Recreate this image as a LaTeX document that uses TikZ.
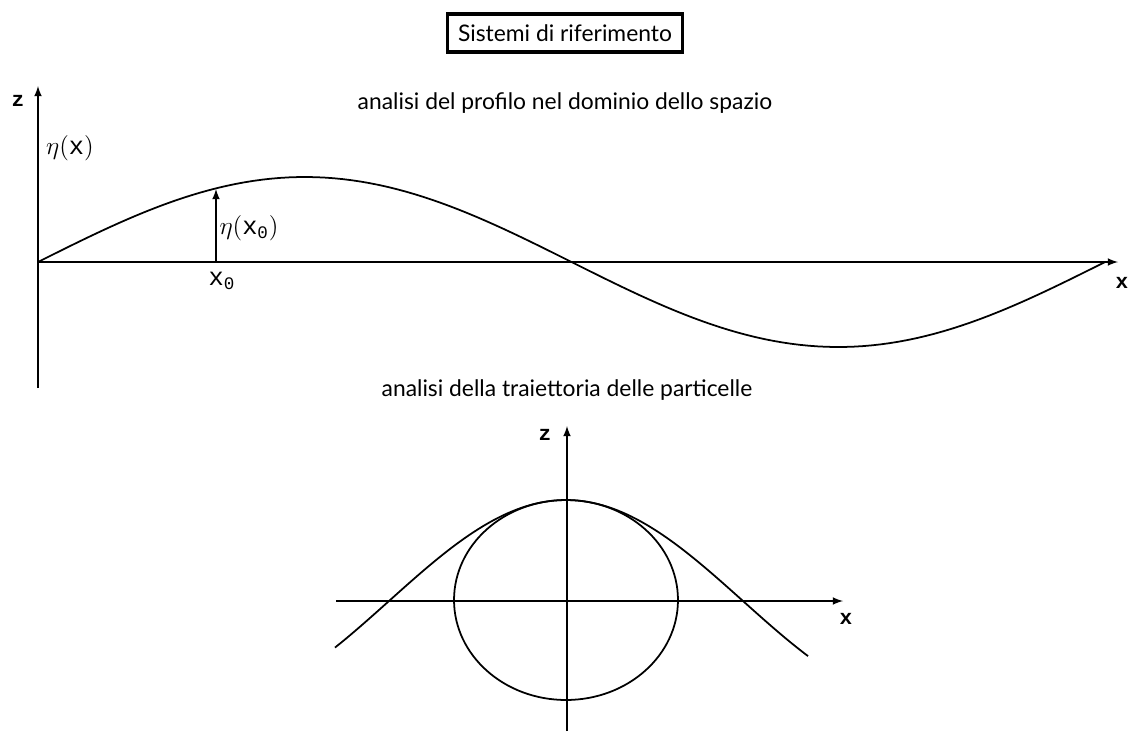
\documentclass[tikz,border=0pt]{standalone}
\usepackage{amsmath}
\usepackage{fontspec}
\setmainfont{Lato}
\setmonofont{Liberation Mono}
\begin{document}
\begin{tikzpicture}[x=0.02cm, y=-0.02cm, >=latex,
    axis/.style={->, line width=1pt},
    curve/.style={line width=1pt},
    lbl/.style={font=\fontsize{13}{15}\selectfont},
    sym/.style={font=\Large},
    ax/.style={font=\large\ttfamily\bfseries}]
    \useasboundingbox (0,0) rectangle (1130,731);

    % Titles
    \node[draw, line width=2.2pt, inner sep=6pt, lbl] (title) at (565,33) {Sistemi di riferimento};
    \node[lbl] (spazio) at (565,103) {analisi del profilo nel dominio dello spazio};
    \node[lbl] (traiett) at (567,390) {analisi della traiettoria delle particelle};

    % Upper axes
    \coordinate (zb1) at (38,388);
    \coordinate (zt1) at (38,86);
    \coordinate (o1) at (38,262);
    \coordinate (xe1) at (1118,262);
    \draw[axis] (zb1) -- (zt1);
    \draw[axis] (o1) -- (xe1);
    \node[ax] (z1) at (18,101) {z};
    \node[ax] (x1) at (1122,283) {x};

    % Profile eta(x)
    \draw[curve] plot[domain=38:1105, samples=120] (\x, {262-85*sin(0.33739*(\x-38))});
    \node[sym] (eta) at (70,148) {$\eta(\texttt{x})$};

    % Elevation at x0
    \coordinate (p0) at (216,262);
    \coordinate (q0) at (216,189);
    \draw[axis] (p0) -- (q0);
    \node[sym] (etax0) at (249,228) {$\eta(\texttt{x}_{\texttt{0}})$};
    \node[sym] (x0) at (222,281) {$\texttt{x}_{\texttt{0}}$};

    % Lower axes
    \coordinate (zb2) at (567,731);
    \coordinate (zt2) at (567,426);
    \coordinate (xb2) at (336,601);
    \coordinate (xe2) at (843,601);
    \draw[axis] (zb2) -- (zt2);
    \draw[axis] (xb2) -- (xe2);
    \node[ax] (z2) at (545,435) {z};
    \node[ax] (x2) at (846,619) {x};

    % Orbit and crest
    \draw[curve] (566,600) ellipse [x radius=2.24cm, y radius=2cm];
    \draw[curve] plot[domain=335:808, samples=100] (\x, {601-101*cos(0.50847*(\x-566))});
\end{tikzpicture}
\end{document}
